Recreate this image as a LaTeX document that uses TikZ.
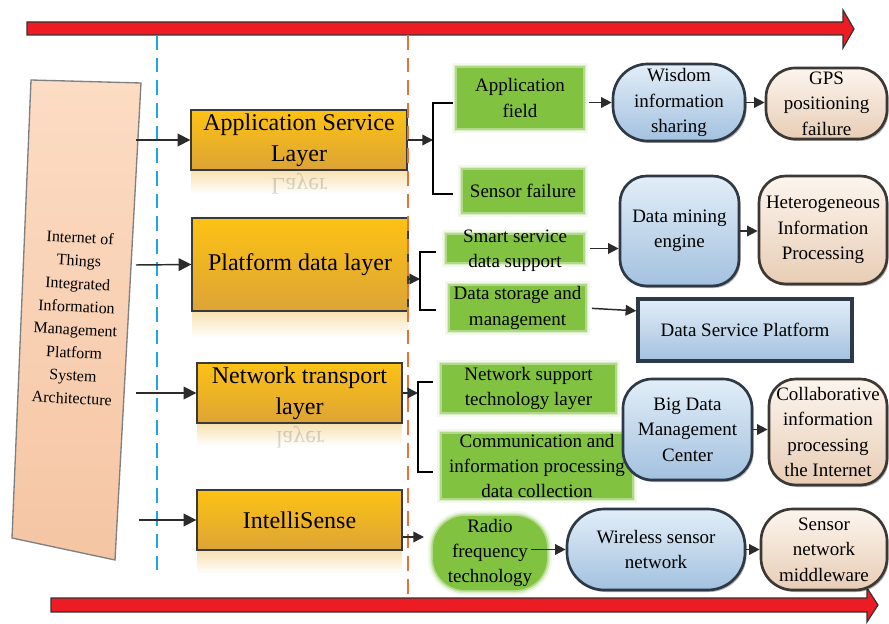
\documentclass[tikz,border=0pt]{standalone}
\usepackage{fontspec}
\setmainfont{Liberation Serif}
\usepackage{graphicx}
\usetikzlibrary{arrows.meta,shadows}
\definecolor{redA}{HTML}{ED1C24}
\definecolor{layT}{HTML}{FDC214}
\definecolor{layBt}{HTML}{DCA436}
\definecolor{layD}{HTML}{3A3A3A}
\definecolor{reflC}{HTML}{F7E2B2}
\definecolor{gG}{HTML}{82C241}
\definecolor{bT}{HTML}{E2EEF8}
\definecolor{bBt}{HTML}{A3C1DF}
\definecolor{bD}{HTML}{2E3947}
\definecolor{pT}{HTML}{FCF5EE}
\definecolor{pBt}{HTML}{E8CDB5}
\definecolor{pD}{HTML}{3D3833}
\definecolor{archT}{HTML}{FCDCC4}
\definecolor{archB}{HTML}{F5C5A3}
\definecolor{dashB}{HTML}{1CA7E0}
\definecolor{dashO}{HTML}{E2743A}
\definecolor{arrC}{HTML}{2B2B2B}
\newcommand\nodefont{\fontsize{14.25}{19}\selectfont}
\newcommand\layfont{\fontsize{18}{23}\selectfont}
\begin{document}
\begin{tikzpicture}[x=0.75pt,y=-0.75pt,
  lay/.style={draw=layD, line width=1pt, top color=layT, bottom color=layBt, inner sep=0pt, align=center, font=\layfont},
  grn/.style={fill=gG, inner sep=0pt, align=center, font=\nodefont,
    preaction={draw=gG, line width=2.5pt, opacity=.45},
    preaction={draw=gG, line width=5pt, opacity=.22},
    preaction={draw=gG, line width=8pt, opacity=.1}},
  txt/.style={inner sep=0pt, align=center, font=\nodefont},
  blu/.style={draw=bD, line width=2pt, top color=bT, bottom color=bBt, inner sep=0pt, align=center, font=\nodefont,
    drop shadow={shadow xshift=1.2pt, shadow yshift=-1.5pt, opacity=.3, fill=black}},
  pch/.style={draw=pD, line width=2pt, top color=pT, bottom color=pBt, inner sep=0pt, align=center, font=\nodefont,
    drop shadow={shadow xshift=1.2pt, shadow yshift=-1.5pt, opacity=.3, fill=black}},
  arr/.style={draw=arrC, line width=1.1pt, -{Triangle[length=8pt,width=8pt]}},
  bigarr/.style={arr, -{Triangle[length=9.5pt,width=9.5pt]}},
  brk/.style={draw=black, line width=1.1pt},
  redarrow/.style={fill=redA, draw=black!80, line width=0.9pt},
  refl/.style={top color=reflC, bottom color=white, draw=none},
  mir/.style={inner sep=0pt, font=\layfont, text=black, opacity=.15},
  dashline/.style={line width=1.5pt, dash pattern=on 11pt off 6pt}
]
\useasboundingbox (0,0) rectangle (889,624);

% red arrows
\draw[redarrow] (27,22) -- (843,22) -- (843,10) -- (854,29) -- (843,48) -- (843,35) -- (27,35) -- cycle;
\draw[redarrow] (51,598) -- (867,598) -- (867,588) -- (878,605) -- (867,622) -- (867,612) -- (51,612) -- cycle;

% left architecture box
\draw[draw=black!50, line width=1pt, top color=archT, bottom color=archB] (31,80) -- (141,83) -- (115,560) -- (12,538) -- cycle;
\node[rotate=-3, align=center, inner sep=0pt, font=\fontsize{12}{17.25}\selectfont, text=black] (arch) at (76,318)
  {Internet of\\Things\\Integrated\\Information\\Management\\Platform\\System\\Architecture};

% reflections
\fill[refl] (191,171) rectangle (407,194);
\fill[refl] (192,312) rectangle (408,338);
\fill[refl] (197,424) rectangle (402,446);
\fill[refl] (197,551) rectangle (402,574);
\node[mir] at (299,184) {\scalebox{1}[-1]{Layer}};
\node[mir] at (300,437) {\scalebox{1}[-1]{layer}};

% layer boxes
\node[lay, minimum width=162pt, minimum height=45pt] (asl) at (299,140) {Application Service\\Layer};
\node[lay, minimum width=162pt, minimum height=69.75pt] (pdl) at (300,264.5) {Platform data layer};
\node[lay, minimum width=153.75pt, minimum height=45pt] (ntl) at (299.5,393) {Network transport\\layer};
\node[lay, minimum width=153.75pt, minimum height=45pt] (isl) at (299.5,520) {IntelliSense};

% green nodes
\node[grn, minimum width=94.5pt, minimum height=45pt] (af) at (520,98) {Application\\field};
\node[grn, minimum width=90pt, minimum height=31.5pt] (sf) at (523,191) {Sensor failure};
\node[grn, minimum width=102pt, minimum height=20.25pt] (sds) at (515,248.5) {};
\node[txt] (sdsT) at (515,251) {Smart service\\data support};
\node[grn, minimum width=101.25pt, minimum height=33pt] (dsm) at (517.5,308) {Data storage and\\management};
\node[grn, minimum width=129.75pt, minimum height=35.25pt] (nst) at (528.5,388.5) {Network support\\technology layer};
\node[grn, minimum width=142.5pt, minimum height=48pt] (cip) at (537,466) {Communication and\\information processing\\data collection};
\node[grn, rounded corners=24pt, minimum width=85.5pt, minimum height=55.5pt] (rf) at (490,553) {Radio\\frequency\\technology};

% blue nodes
\node[blu, rounded corners=26pt, minimum width=99pt, minimum height=57.75pt] (wis) at (679,102.5) {Wisdom\\information\\sharing};
\node[blu, rounded corners=20pt, minimum width=89.25pt, minimum height=82.5pt] (dme) at (679.5,231) {Data mining\\engine};
\node[blu, line width=2.6pt, minimum width=160.5pt, minimum height=46.5pt] (dsp) at (745,330) {Data Service Platform};
\node[blu, rounded corners=22pt, minimum width=96.75pt, minimum height=75.75pt] (bdm) at (687.5,429.5) {Big Data\\Management\\Center};
\node[blu, rounded corners=28pt, minimum width=133.5pt, minimum height=60.75pt] (wsn) at (656,549.5) {Wireless sensor\\network};

% peach nodes
\node[pch, rounded corners=22pt, minimum width=90.75pt, minimum height=53.25pt] (gps) at (826.5,103.5) {GPS\\positioning\\failure};
\node[pch, rounded corners=20pt, minimum width=96pt, minimum height=81pt] (hip) at (823,230) {Heterogeneous\\Information\\Processing};
\node[pch, rounded corners=20pt, minimum width=88.5pt, minimum height=79.5pt] (cpi) at (828,432) {Collaborative\\information\\processing\\the Internet};
\node[pch, rounded corners=24pt, minimum width=94.5pt, minimum height=60.75pt] (snm) at (824,549.5) {Sensor\\network\\middleware};

% dashed guide lines
\draw[dashline, draw=dashB] (157,35) -- (157,570);
\draw[dashline, draw=dashO] (408,35) -- (408,598);

% arrows from the architecture box
\coordinate (s1) at (136,140);
\coordinate (s2) at (136,265);
\coordinate (s3) at (136,393);
\coordinate (s4) at (139,520);
\draw[bigarr] (s1) -- (asl.west);
\draw[bigarr] (s2) -- (pdl.west);
\draw[bigarr] (s3) -- (ntl.west);
\draw[bigarr] (s4) -- (isl.west);

% brackets
\coordinate (b1) at (433,140);
\coordinate (b1t) at (453,103);
\coordinate (b1b) at (453,194);
\draw[arr] (asl.east) -- (b1);
\draw[brk] (b1t) -| (b1) |- (b1b);

\coordinate (b2) at (420,279);
\coordinate (b2t) at (436,252);
\coordinate (b2b) at (436,310);
\draw[arr] (pdl.east |- b2) -- (b2);
\draw[brk] (b2t) -| (b2) |- (b2b);

\coordinate (b3) at (418,393);
\coordinate (b3t) at (433,382);
\coordinate (b3b) at (433,472);
\draw[arr] (ntl.east) -- (b3);
\draw[brk] (b3t) -| (b3) |- (b3b);

\coordinate (b4) at (424,537);
\draw[arr] (isl.east |- b4) -- (b4);

% right-side arrows
\draw[arr, shorten <=4pt] (af.east |- wis.west) -- (wis.west);
\draw[arr] (wis.east) -- (wis.east -| gps.west);
\draw[arr, shorten <=5pt] (sds.east) -- (sds.east -| dme.west);
\draw[arr, shorten <=5pt] (dsm.east) -- (dsp.170);
\draw[arr] (dme.east) -- (dme.east -| hip.west);
\draw[arr] (bdm.east) -- (bdm.east -| cpi.west);
\draw[arr, shorten <=-12pt] (rf.east |- wsn.west) -- (wsn.west);
\draw[arr] (wsn.east) -- (wsn.east -| snm.west);
\end{tikzpicture}
\end{document}
